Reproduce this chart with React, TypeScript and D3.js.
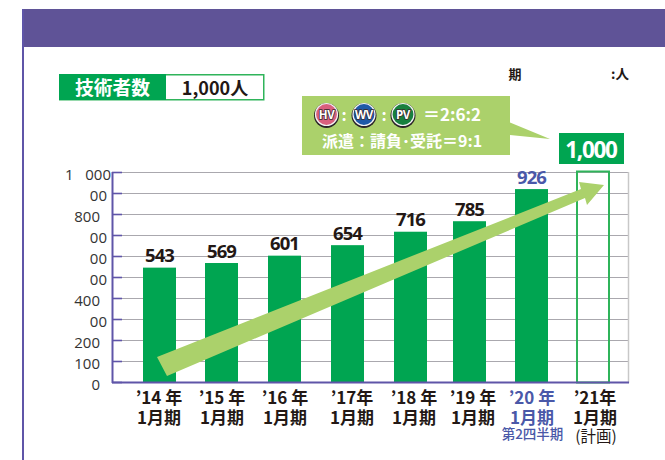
import React from "react";
import * as d3 from "d3";

const categories = ["14", "15", "16", "17", "18", "19", "20", "21"];
const engineers = [547, 569, 604, 654, 718, 768, 921];
const planned = 1000;
const tickValues = [0, 100, 200, 300, 400, 500, 600, 700, 800, 900, 1000];
const tickLabels = ["0", "100", "200", "00", "400", "00", "00", "00", "800", "00", "1   000"];
const valueLabels = ["543", "569", "601", "654", "716", "785", "926"];
const yearLabels = ["’14 年", "’15 年", "’16 年", "’17年", "’18 年", "’19 年", "’20 年", "’21年"];

const PURPLE = "#5f5397";
const AXIS = "#5f55a8";
const GREEN = "#00a551";
const LIGHT = "#abd16b";
const INK = "#231815";
const BLUE = "#4a58a8";
const SANS = "'Open Sans','Noto Sans CJK JP',sans-serif";
const JP = "'Noto Sans CJK JP',sans-serif";

function Badge({ cx, label, fill }: { cx: number; label: string; fill: string }) {
  return (
    <g>
      <circle cx={cx} cy={115.5} r={12.5} fill="#2a2328" />
      <circle cx={cx} cy={114.5} r={11} fill={fill} stroke="#f2f2f2" strokeWidth={1.2} />
      <text x={cx} y={119} textAnchor="middle" fontFamily={SANS} fontWeight={700} fontSize={11.5}
        letterSpacing={-0.3} fill="#fff" stroke="#3a2a30" strokeWidth={1.6} paintOrder="stroke">{label}</text>
    </g>
  );
}

export default function App() {
  const y = d3.scaleLinear().domain([0, 1000]).range([382.5, 172.5]);
  const x = d3.scaleOrdinal<string, number>().domain(categories).range([143, 205, 268, 331, 394, 453, 515, 576]);
  const labelX = d3.scaleOrdinal<string, number>().domain(categories).range([159, 222, 285, 352, 414, 473, 532, 595]);
  const bw = 33;
  const arrow = d3.line()([[157, 357], [167, 376], [585, 198], [587, 205], [604, 185], [579, 182], [581, 189]]) + "Z";
  const callout = d3.line()([[302, 96], [510, 96], [510, 122.5], [550, 139], [510, 135], [510, 155], [302, 155]]) + "Z";
  return (
    <svg width={665} height={460} style={{ position: "absolute", left: 0, top: 0, background: "#fff" }}>
      <rect x={22} y={9} width={643} height={38} fill={PURPLE} />
      <rect x={22} y={9} width={2} height={451} fill={AXIS} />

      <rect x={59.75} y={74.75} width={204} height={25} fill="#fff" stroke="#2fb45a" strokeWidth={1.5} />
      <rect x={59} y={74} width={107} height={26} fill={GREEN} />
      <text x={112.5} y={94.5} textAnchor="middle" fontFamily={JP} fontWeight={700} fontSize={18.75} fill="#fff">技術者数</text>
      <text x={215} y={94.5} textAnchor="middle" fontFamily={JP} fontWeight={700} fontSize={18} fill={INK}>1,000人</text>

      <text x={515} y={79} textAnchor="middle" fontFamily={JP} fontWeight={700} fontSize={13} fill={INK}>期</text>
      <text x={620} y={79} textAnchor="middle" fontFamily={JP} fontWeight={700} fontSize={13.5} fill={INK}>:人</text>

      {tickValues.map((t) => (
        <line key={t} x1={112} x2={629} y1={y(t)} y2={y(t)} stroke="#aaa8ae" strokeWidth={1} />
      ))}
      <line x1={628.5} x2={628.5} y1={172} y2={383} stroke="#c8c8c8" strokeWidth={1.5} />

      {engineers.map((v, i) => (
        <rect key={categories[i]} x={x(categories[i])} y={y(v)} width={bw} height={y(0) - y(v)} fill={GREEN} />
      ))}
      <rect x={x("21") + 1} y={y(planned) - 1} width={bw - 1} height={y(0) - y(planned) + 1} fill="none" stroke="#2fb45a" strokeWidth={2} />

      <path d={arrow} fill={LIGHT} />

      {tickValues.map((t) => (
        <line key={t} x1={112} x2={122} y1={y(t)} y2={y(t)} stroke={AXIS} strokeWidth={1.6} />
      ))}
      <line x1={112.5} x2={112.5} y1={172} y2={383} stroke={AXIS} strokeWidth={2} />
      <line x1={112} x2={629} y1={382.5} y2={382.5} stroke={AXIS} strokeWidth={2} />

      {tickLabels.map((l, i) => {
        const anchorX = l.length > 3 ? 111 : l === "00" ? 107 : 100;
        return (
          <text key={i} x={anchorX} y={y(tickValues[i]) + 7} textAnchor="end" xmlSpace="preserve" fontFamily={SANS} fontSize={15} fill="#333">{l}</text>
        );
      })}

      {valueLabels.map((l, i) => (
        <text key={l} x={x(categories[i]) + bw / 2} y={y(engineers[i]) - 5.5} textAnchor="middle" fontFamily={SANS} fontWeight={700} fontSize={18.5} letterSpacing={-0.9} fill={i === 6 ? BLUE : INK}>{l}</text>
      ))}

      {yearLabels.map((l, i) => {
        const cx = labelX(categories[i]);
        const fill = i === 6 ? BLUE : INK;
        return (
          <g key={l} fontFamily={JP} fontWeight={700} fontSize={17} fill={fill} textAnchor="middle">
            <text x={cx} y={404}>{l}</text>
            <text x={cx} y={424}>1月期</text>
          </g>
        );
      })}
      <text x={532.5} y={439} textAnchor="middle" fontFamily={JP} fontWeight={500} fontSize={13.5} fill={BLUE}>第2四半期</text>
      <text x={596} y={442} textAnchor="middle" fontFamily={JP} fontSize={15.5} fill={INK}>(計画)</text>

      <path d={callout} fill={LIGHT} />
      <Badge cx={326.5} label="HV" fill="#d9607e" />
      <text x={344} y={121} fontFamily={JP} fontWeight={700} fontSize={16} fill="#fff" textAnchor="middle">:</text>
      <Badge cx={364} label="WV" fill="#1f59a8" />
      <text x={384} y={121} fontFamily={JP} fontWeight={700} fontSize={16} fill="#fff" textAnchor="middle">:</text>
      <Badge cx={403} label="PV" fill="#18803e" />
      <text x={423} y={120.5} fontFamily={JP} fontWeight={700} fontSize={17} fill="#fff">＝2:6:2</text>
      <text x={322} y={147} fontFamily={JP} fontWeight={700} fontSize={16} fill="#fff">派遣：請負･受託＝9:1</text>

      <rect x={559} y={133} width={65} height={31} fill={GREEN} />
      <text x={591} y={158} textAnchor="middle" fontFamily={SANS} fontWeight={700} fontSize={22.5} letterSpacing={-1.3} fill="#fff">1,000</text>
    </svg>
  );
}
